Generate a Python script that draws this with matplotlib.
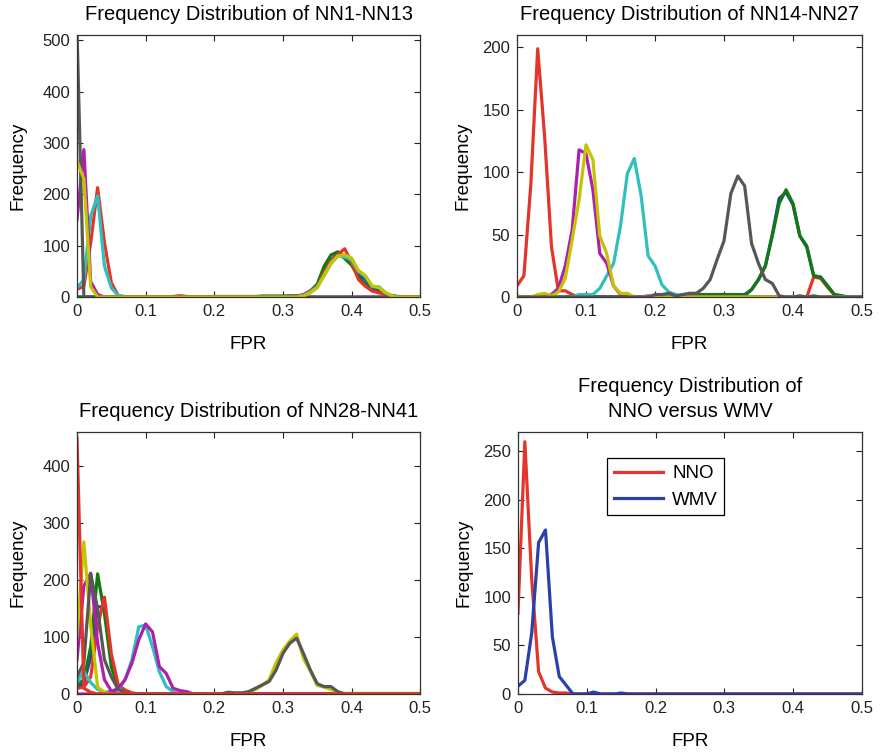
import numpy as np
import matplotlib
matplotlib.use('Agg')
import matplotlib.pyplot as plt

plt.rcParams['font.family'] = ['Liberation Sans', 'DejaVu Sans']

# FPR bins 0:0.01:0.5
fpr = np.round(np.arange(0, 0.505, 0.01), 2)

xtick_vals = [0, 0.1, 0.2, 0.3, 0.4, 0.5]
xtick_labels = ['0', '0.1', '0.2', '0.3', '0.4', '0.5']

# colours (matlab lines order, as printed)
c_blue = '#2b40a8'
c_green = '#137a13'
c_red = '#e3352a'
c_cyan = '#2fbfbf'
c_magenta = '#ad20ad'
c_yellow = '#c4c400'
c_gray = '#575757'

# ---- NN1-NN13 ----
p1_blue = [0, 0, 0, 0, 0, 0, 0, 0, 0, 0,
           0, 0, 0, 0, 0, 0, 0, 0, 0, 0,
           1, 1, 1, 1, 1, 1, 1, 1, 1, 1,
           1, 2, 2, 3, 10, 22, 50, 72, 85, 80,
           70, 45, 35, 15, 14, 6, 2, 0, 0, 0, 0]
p1_green = [0, 0, 0, 0, 0, 0, 0, 0, 0, 0,
            0, 0, 0, 0, 0, 0, 0, 0, 0, 0,
            1, 1, 1, 1, 1, 1, 1, 2, 2, 2,
            2, 2, 2, 4, 12, 25, 60, 82, 88, 75,
            62, 40, 25, 12, 10, 5, 2, 1, 0, 0, 0]
p1_red = [15, 21, 106, 213, 106, 28, 3, 0, 0, 0,
          0, 0, 0, 0, 1, 2, 1, 0, 0, 0,
          0, 0, 0, 0, 0, 0, 0, 0, 0, 1,
          1, 1, 2, 5, 12, 21, 47, 70, 83, 94,
          67, 34, 21, 12, 8, 5, 2, 0, 0, 0, 0]
p1_cyan = [18, 34, 158, 197, 60, 18, 3, 1, 0, 0,
           0, 0, 0, 0, 0, 0, 0, 0, 0, 0,
           0, 0, 0, 0, 0, 0, 0, 0, 0, 0,
           0, 1, 1, 3, 10, 20, 42, 65, 80, 78,
           72, 50, 40, 20, 20, 8, 2, 0, 0, 0, 0]
p1_magenta = [150, 287, 30, 5, 0, 0, 0, 0, 0, 0,
              0, 0, 0, 0, 1, 2, 1, 0, 0, 0,
              0, 0, 0, 0, 0, 0, 0, 0, 0, 0,
              0, 0, 0, 0, 0, 0, 0, 0, 0, 0,
              0, 0, 0, 0, 0, 0, 0, 0, 0, 0, 0]
p1_yellow = [265, 230, 20, 0, 0, 0, 0, 0, 0, 0,
             0, 0, 0, 0, 0, 0, 0, 0, 0, 0,
             0, 0, 0, 0, 0, 0, 0, 0, 0, 0,
             0, 0, 0, 2, 8, 18, 42, 66, 80, 82,
             76, 52, 42, 22, 18, 8, 1, 0, 0, 0, 0]
p1_gray = [520, 0, 0, 0, 0, 0, 0, 0, 0, 0,
           0, 0, 0, 0, 0, 0, 0, 0, 0, 0,
           0, 0, 0, 0, 0, 0, 0, 0, 0, 0,
           0, 0, 0, 0, 0, 0, 0, 0, 0, 0,
           0, 0, 0, 0, 0, 0, 0, 0, 0, 0, 0]

# ---- NN14-NN27 ----
p2_blue = [0, 0, 0, 0, 0, 0, 0, 0, 0, 0,
           0, 0, 0, 0, 0, 0, 0, 0, 0, 0,
           0, 0, 0, 0, 0, 1, 2, 2, 2, 2,
           2, 2, 2, 2, 6, 14, 25, 50, 79, 84,
           74, 49, 40, 17, 16, 9, 2, 1, 0, 0, 0]
p2_green = [0, 0, 0, 0, 0, 0, 0, 0, 0, 0,
            0, 0, 0, 0, 0, 0, 0, 0, 0, 0,
            0, 0, 0, 0, 0, 1, 2, 2, 2, 2,
            2, 2, 2, 1, 6, 14, 25, 49, 75, 86,
            75, 49, 41, 17, 16, 9, 2, 1, 0, 0, 0]
p2_red = [9, 17, 90, 199, 129, 40, 5, 5, 2, 0,
          0, 0, 0, 0, 0, 0, 0, 0, 0, 0,
          0, 0, 0, 0, 0, 0, 0, 0, 0, 0,
          0, 0, 0, 0, 0, 0, 0, 0, 0, 0,
          0, 0, 0, 16, 15, 8, 2, 0, 0, 0, 0]
p2_cyan = [0, 0, 0, 0, 1, 1, 0, 0, 0, 2,
           2, 2, 7, 17, 27, 57, 99, 111, 81, 33,
           25, 10, 4, 2, 1, 0, 0, 0, 0, 0,
           0, 0, 0, 0, 0, 0, 0, 0, 0, 0,
           0, 0, 0, 0, 0, 0, 0, 0, 0, 0, 0]
p2_magenta = [0, 0, 0, 0, 0, 2, 7, 25, 54, 118,
              115, 86, 35, 27, 9, 2, 0, 0, 0, 1,
              0, 0, 0, 0, 0, 0, 0, 0, 0, 0,
              0, 0, 0, 0, 0, 0, 0, 0, 0, 0,
              0, 0, 0, 0, 0, 0, 0, 0, 0, 0, 0]
p2_yellow = [1, 0, 0, 2, 3, 1, 4, 15, 46, 78,
             122, 110, 49, 35, 9, 3, 3, 0, 0, 0,
             0, 0, 0, 0, 0, 0, 0, 0, 0, 0,
             0, 0, 0, 0, 0, 0, 0, 0, 0, 0,
             0, 0, 0, 0, 0, 0, 0, 0, 0, 0, 0]
p2_gray = [0, 0, 0, 0, 0, 0, 0, 0, 0, 0,
           0, 0, 0, 0, 0, 0, 0, 0, 0, 0,
           2, 2, 3, 1, 2, 3, 3, 7, 14, 30,
           45, 83, 97, 89, 43, 27, 14, 11, 1, 0,
           0, 1, 0, 1, 0, 0, 0, 0, 0, 0, 0]

# ---- NN28-NN41 ----
p3_blue = [13, 19, 65, 153, 153, 60, 13, 3, 0, 0,
           0, 0, 0, 0, 0, 0, 0, 0, 0, 0,
           0, 0, 0, 0, 0, 0, 0, 0, 0, 0,
           0, 0, 0, 0, 0, 0, 0, 0, 0, 0,
           0, 0, 0, 0, 0, 0, 0, 0, 0, 0, 0]
p3_green = [16, 25, 83, 211, 141, 48, 10, 3, 0, 0,
            0, 0, 0, 0, 0, 0, 0, 0, 0, 0,
            0, 0, 0, 0, 0, 0, 0, 0, 0, 0,
            0, 0, 0, 0, 0, 0, 0, 0, 0, 0,
            0, 0, 0, 0, 0, 0, 0, 0, 0, 0, 0]
p3_red_b = [10, 12, 30, 118, 170, 71, 16, 7, 2, 0,
            0, 0, 0, 0, 0, 0, 0, 0, 0, 0,
            0, 0, 0, 0, 0, 0, 0, 0, 0, 0,
            0, 0, 0, 0, 0, 0, 0, 0, 0, 0,
            0, 0, 0, 0, 0, 0, 0, 0, 0, 0, 0]
p3_cyan = [20, 40, 20, 8, 3, 5, 7, 25, 60, 118,
           121, 83, 39, 13, 4, 0, 0, 0, 0, 0,
           0, 0, 0, 0, 0, 0, 0, 0, 0, 0,
           0, 0, 0, 0, 0, 0, 0, 0, 0, 0,
           0, 0, 0, 0, 0, 0, 0, 0, 0, 0, 0]
p3_magenta_a = [60, 190, 212, 90, 25, 5, 0, 0, 0, 0,
                0, 0, 0, 0, 0, 0, 0, 0, 0, 0,
                0, 0, 0, 0, 0, 0, 0, 0, 0, 0,
                0, 0, 0, 0, 0, 0, 0, 0, 0, 0,
                0, 0, 0, 0, 0, 0, 0, 0, 0, 0, 0]
p3_magenta_b = [0, 0, 0, 0, 0, 4, 10, 25, 54, 95,
                123, 109, 48, 36, 10, 6, 4, 0, 0, 0,
                0, 0, 0, 0, 0, 0, 0, 0, 0, 0,
                0, 0, 0, 0, 0, 0, 0, 0, 0, 0,
                0, 0, 0, 0, 0, 0, 0, 0, 0, 0, 0]
p3_yellow = [100, 267, 120, 12, 3, 0, 0, 0, 0, 0,
             0, 0, 0, 0, 0, 0, 0, 0, 0, 0,
             0, 0, 2, 1, 1, 3, 8, 15, 25, 55,
             77, 93, 105, 62, 40, 15, 12, 8, 3, 1,
             1, 1, 1, 1, 1, 1, 1, 1, 1, 1, 1]
p3_gray = [30, 55, 211, 150, 60, 30, 8, 2, 0, 0,
           0, 0, 0, 0, 0, 0, 0, 0, 0, 0,
           0, 0, 3, 2, 2, 4, 10, 16, 22, 42,
           71, 89, 98, 71, 42, 18, 13, 13, 4, 0,
           0, 0, 0, 0, 0, 0, 0, 0, 0, 0, 0]
p3_red_a = [449, 10, 3, 0, 0, 0, 0, 0, 0, 0,
            0, 0, 0, 0, 0, 0, 0, 0, 0, 0,
            0, 0, 0, 0, 0, 0, 0, 0, 0, 0,
            0, 0, 0, 0, 0, 0, 0, 0, 0, 0,
            0, 0, 0, 0, 0, 0, 0, 0, 0, 0, 0]

# ---- NNO vs WMV ----
nno = [83, 260, 118, 23, 6, 2, 1, 1, 0, 0,
       0, 0, 0, 0, 0, 0, 0, 0, 0, 0,
       0, 0, 0, 0, 0, 0, 0, 0, 0, 0,
       0, 0, 0, 0, 0, 0, 0, 0, 0, 0,
       0, 0, 0, 0, 0, 0, 0, 0, 0, 0, 0]
wmv = [8, 14, 63, 156, 169, 59, 18, 9, 0, 0,
       0, 2, 0, 0, 0, 1, 0, 0, 0, 0,
       0, 0, 0, 0, 0, 0, 0, 0, 0, 0,
       0, 0, 0, 0, 0, 0, 0, 0, 0, 0,
       0, 0, 0, 0, 0, 0, 0, 0, 0, 0, 0]

panels = [
  ('Frequency Distribution of NN1-NN13', [0, 0.0875, 0.4775, 0.9535, 0.6055], (0, 510), [0, 100, 200, 300, 400, 500],
   [(p1_blue, c_blue), (p1_green, c_green), (p1_red, c_red), (p1_cyan, c_cyan),
    (p1_magenta, c_magenta), (p1_gray, c_gray), (p1_yellow, c_yellow)]),
  ('Frequency Distribution of NN14-NN27', [1, 0.5875, 0.9795, 0.9535, 0.6055], (0, 210), [0, 50, 100, 150, 200],
   [(p2_blue, c_blue), (p2_red, c_red), (p2_green, c_green), (p2_cyan, c_cyan),
    (p2_magenta, c_magenta), (p2_yellow, c_yellow), (p2_gray, c_gray)]),
  ('Frequency Distribution of NN28-NN41', [2, 0.0875, 0.4775, 0.4263, 0.0784], (0, 460), [0, 100, 200, 300, 400],
   [(p3_blue, c_blue), (p3_green, c_green), (p3_red_b, c_red), (p3_cyan, c_cyan),
    (p3_magenta_a, c_magenta), (p3_magenta_b, c_magenta), (p3_yellow, c_yellow),
    (p3_gray, c_gray), (p3_red_a, c_red)]),
]

LW = 2.3
TICK_FS = 12
LABEL_FS = 13.5
TITLE_FS = 14.5

fig = plt.figure(figsize=(8.8, 7.53), dpi=100)

def style(ax, ylim, yticks, ypad):
  ax.set_xlim(0, 0.5)
  ax.set_ylim(*ylim)
  ax.set_xticks(xtick_vals)
  ax.set_xticklabels(xtick_labels)
  ax.set_yticks(yticks)
  ax.tick_params(direction='in', top=True, right=True, length=4, width=0.8,
                 labelsize=TICK_FS, colors='#222222', pad=5)
  for s in ax.spines.values():
    s.set_color('#333333')
    s.set_linewidth(0.9)
  ax.set_xlabel('FPR', fontsize=LABEL_FS, labelpad=12)
  ax.set_ylabel('Frequency', fontsize=LABEL_FS, labelpad=ypad)

axes = []
for title, pos, ylim, yticks, series in panels:
  idx, l, r, t, b = pos
  ax = fig.add_axes([l, b, r - l, t - b])
  for vals, col in series:
    ax.plot(fpr, vals, color=col, lw=LW, clip_on=True)
  style(ax, ylim, yticks, 11 if idx != 1 else 7.5)
  ax.set_title(title, fontsize=TITLE_FS, pad=10.5)
  axes.append(ax)

ax4 = fig.add_axes([0.5886, 0.0784, 0.9795 - 0.5886, 0.4263 - 0.0784])
ax4.plot(fpr, nno, color=c_red, lw=LW, label='NNO')
ax4.plot(fpr, wmv, color=c_blue, lw=LW, label='WMV')
style(ax4, (0, 270), [0, 50, 100, 150, 200, 250], 7.5)
ax4.set_title('Frequency Distribution of\nNNO versus WMV', fontsize=TITLE_FS, pad=10.5, linespacing=1.43)
leg = ax4.legend(loc='upper left', bbox_to_anchor=(0.233, 0.935), fontsize=LABEL_FS,
                 fancybox=False, framealpha=1, edgecolor='black', handlelength=2.6,
                 borderpad=0.35, labelspacing=0.5, handletextpad=0.5)
leg.get_frame().set_linewidth(0.9)

fig.savefig('out.png', dpi=100)
